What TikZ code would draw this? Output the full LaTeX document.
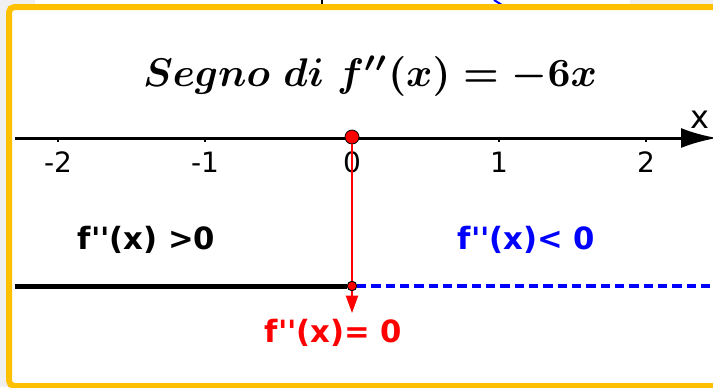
\documentclass[tikz,border=0pt]{standalone}
\usepackage{fontspec}
\usetikzlibrary{arrows.meta}
\newfontfamily\djs{DejaVu Sans}
\definecolor{ybord}{RGB}{255,192,0}
\definecolor{bgg}{RGB}{240,240,240}
\newcommand{\fpp}{f\textquotesingle\textquotesingle}
\newsavebox{\titlebox}
\AtBeginDocument{\sbox{\titlebox}{\boldmath$Segno\ di\ f''(x)=-6x$}}
\tikzset{
  lab/.style={font=\djs\bfseries\fontsize{23}{26}\selectfont, inner sep=0pt, anchor=base},
  ticklab/.style={font=\djs\fontsize{21}{24}\selectfont, inner sep=0pt, anchor=base},
  bigdot/.style={circle, fill=red, draw=black, line width=0.6pt, minimum size=10.5pt, inner sep=0pt},
  smalldot/.style={circle, fill=red, draw=black, line width=0.6pt, minimum size=7pt, inner sep=0pt},
  tickmark/.style={line width=1.5pt},
}
\begin{document}
\begin{tikzpicture}[x=0.75pt,y=-0.75pt]
\useasboundingbox (0,0) rectangle (713,387);
% background
\fill[bgg] (0,0) rectangle (713,387);
\fill[white] (35,0) rectangle (630,6);
\fill[white] (9,7) rectangle (713,387);
% fragments above the frame
\draw[black, line width=1.5pt] (322,0) -- (322,5);
\draw[blue, line width=1.5pt] (494,0) -- (502,5);
% frame
\draw[ybord, line width=4.5pt, rounded corners=4pt] (9,7) -- (740,7) -- (740,386) -- (9,386) -- cycle;
% title
\node[anchor=base, scale=3.0, inner sep=0pt] (title) at (370,86) {\usebox{\titlebox}};
% axis
\coordinate (axL) at (15,138);
\coordinate (axR) at (717,138);
\foreach \xx/\tl in {58/-2,205/-1,352/0,499/1,646/2}{
  \draw[tickmark] (\xx,138) -- (\xx,142);
  \node[ticklab] (t\tl) at (\xx,172) {\tl};
}
\draw[line width=2.25pt, -{Latex[length=27pt,width=15pt]}] (axL) -- (axR);
\node[font=\djs\fontsize{24}{26}\selectfont, inner sep=0pt, anchor=base] (xlab) at (700,128) {x};
% lower line
\coordinate (lowL) at (15,286);
\coordinate (lowR) at (713,286);
\coordinate (tip) at (352,313);
\node[bigdot] (d0) at (352,137) {};
\draw[red, line width=1.5pt, -{Triangle[length=13pt,width=9pt]}] (d0) -- (tip);
\node[smalldot] (mid) at (352,286) {};
\draw[line width=3.75pt] (lowL) -- (mid);
\draw[blue, line width=2.8pt, dash pattern=on 7pt off 3.75pt] (mid) -- (lowR);
\node[smalldot] (midtop) at (mid) {};
% labels
\node[lab] (pos) at (146.5,249) {\fpp(x) >0};
\node[lab, text=blue] (neg) at (526.5,249) {\fpp(x)< 0};
\node[lab, text=red] (zero) at (333.5,342) {\fpp(x)= 0};
\end{tikzpicture}
\end{document}
